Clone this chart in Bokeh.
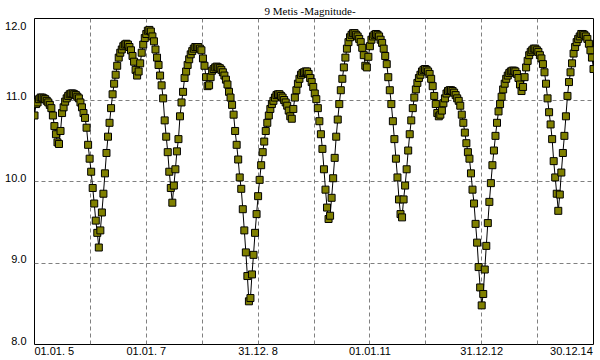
from bokeh.plotting import figure
from bokeh.models import Range1d, Grid, FixedTicker, ColumnDataSource, LinearAxis
from bokeh.embed import file_html
from bokeh.resources import INLINE

title_text = "9 Metis -Magnitude-"

# time axis: days after 01.01.2005, one value every 10 days
start_day = 0
step_days = 10

magnitude = [
    10.81, 10.95, 10.97, 11.01, 11.03, 11.03, 11.02, 11.01, 10.99, 10.97,
    10.94, 10.90, 10.81, 10.68, 10.58, 10.48, 10.46, 10.62, 10.84, 10.91,
    10.98, 11.02, 11.05, 11.07, 11.08, 11.08, 11.07, 11.06, 11.04, 11.02,
    10.97, 10.91, 10.84, 10.78, 10.66, 10.45, 10.28, 10.12, 9.92, 9.73,
    9.52, 9.37, 9.19, 9.40, 9.62, 9.85, 10.10, 10.35, 10.55, 10.72,
    10.90, 11.07, 11.20, 11.31, 11.42, 11.52, 11.58, 11.62, 11.66, 11.68,
    11.69, 11.68, 11.65, 11.61, 11.54, 11.47, 11.37, 11.30, 11.35, 11.45,
    11.58, 11.68, 11.76, 11.81, 11.85, 11.86, 11.84, 11.78, 11.72, 11.62,
    11.52, 11.43, 11.30, 11.18, 11.02, 10.75, 10.55, 10.36, 10.12, 9.92,
    9.74, 9.95, 10.15, 10.37, 10.52, 10.80, 10.97, 11.10, 11.27, 11.35,
    11.43, 11.50, 11.56, 11.60, 11.63, 11.65, 11.65, 11.65, 11.63, 11.61,
    11.51, 11.42, 11.28, 11.17, 11.18, 11.28, 11.36, 11.38, 11.40, 11.41,
    11.40, 11.39, 11.37, 11.34, 11.30, 11.25, 11.19, 11.10, 11.03, 10.94,
    10.82, 10.62, 10.45, 10.27, 10.05, 9.91, 9.66, 9.40, 9.13, 8.84,
    8.53, 8.57, 8.86, 9.10, 9.37, 9.60, 9.82, 10.02, 10.20, 10.36,
    10.49, 10.62, 10.72, 10.81, 10.89, 10.95, 10.99, 11.03, 11.06, 11.07,
    11.07, 11.05, 11.03, 11.00, 10.97, 10.93, 10.87, 10.80, 10.77, 10.89,
    11.03, 11.12, 11.20, 11.26, 11.31, 11.33, 11.34, 11.35, 11.35, 11.32,
    11.27, 11.22, 11.16, 11.08, 11.01, 10.90, 10.74, 10.58, 10.40, 10.15,
    9.90, 9.68, 9.54, 9.58, 9.80, 10.04, 10.29, 10.55, 10.76, 10.95,
    11.12, 11.26, 11.40, 11.52, 11.63, 11.71, 11.77, 11.80, 11.82, 11.82,
    11.80, 11.78, 11.75, 11.71, 11.64, 11.55, 11.42, 11.40, 11.53, 11.66,
    11.74, 11.78, 11.80, 11.81, 11.80, 11.78, 11.74, 11.70, 11.63, 11.54,
    11.44, 11.28, 11.12, 10.95, 10.74, 10.52, 10.28, 10.05, 9.78, 9.60,
    9.56, 9.78, 9.95, 10.15, 10.38, 10.58, 10.75, 10.90, 11.03, 11.13,
    11.21, 11.27, 11.31, 11.35, 11.37, 11.38, 11.37, 11.35, 11.32, 11.26,
    11.17, 11.05, 10.95, 10.84, 10.80, 10.82, 10.87, 10.96, 11.02, 11.08,
    11.11, 11.12, 11.12, 11.11, 11.09, 11.06, 11.02, 10.99, 10.93, 10.82,
    10.72, 10.60, 10.47, 10.36, 10.28, 10.10, 9.90, 9.73, 9.48, 9.25,
    8.95, 8.70, 8.48, 8.62, 8.92, 9.21, 9.49, 9.75, 9.98, 10.20,
    10.38, 10.56, 10.72, 10.86, 10.95, 11.04, 11.13, 11.20, 11.26, 11.30,
    11.33, 11.35, 11.36, 11.36, 11.35, 11.32, 11.27, 11.19, 11.11, 11.16,
    11.28, 11.40, 11.48, 11.55, 11.59, 11.61, 11.63, 11.63, 11.61, 11.59,
    11.55, 11.51, 11.44, 11.34, 11.20, 11.02, 10.85, 10.70, 10.52, 10.25,
    10.05, 9.85, 9.64, 9.84, 10.11, 10.35, 10.56, 10.80, 11.05, 11.22,
    11.34, 11.45, 11.57, 11.65, 11.71, 11.75, 11.78, 11.81, 11.81, 11.80,
    11.78, 11.75, 11.69, 11.61, 11.52, 11.38,
]
days = [start_day + step_days * i for i in range(len(magnitude))]

x_grid_days = [365, 730, 1095, 1460, 1825, 2190, 2555, 2920, 3285]
x_label_text = ["01.01. 5", "01.01. 7", "31.12. 8", "01.01.11", "31.12.12", "30.12.14"]
# label anchors (first/last kept inside the frame like the original)
x_label_anchor = [129, 730, 1460, 2190, 2920, 3506]
y_grid_vals = [9, 10, 11]
y_label_text = ["8.0", "9.0", "10.0", "11.0", "12.0"]
# label anchors: text sits just above its grid line, top one kept inside
y_label_anchor = [8.043, 9.043, 10.043, 11.043, 11.914]

X_MIN, X_MAX = 0, 3650
Y_MIN, Y_MAX = 8, 12

p = figure(width=600, height=360,
           x_range=Range1d(X_MIN, X_MAX), y_range=Range1d(Y_MIN, Y_MAX),
           x_axis_type=None, y_axis_type=None, title=title_text,
           output_backend="svg", toolbar_location=None,
           min_border_left=34, min_border_right=7,
           min_border_top=18, min_border_bottom=16)
p.background_fill_color = "white"
p.border_fill_color = "white"
p.outline_line_color = "black"
p.outline_line_width = 1
p.outline_line_alpha = 1.0

p.title.text_font = "Liberation Serif"
p.title.text_font_size = "11px"
p.title.text_font_style = "normal"
p.title.text_color = "black"
p.title.align = "left"
p.title.offset = 230
p.title.standoff = 3

for dim, ticks in ((0, x_grid_days), (1, y_grid_vals)):
    g = Grid(dimension=dim, ticker=FixedTicker(ticks=ticks),
             grid_line_color="#808080", grid_line_dash="4 3", grid_line_width=1)
    p.add_layout(g)

TICK_FONT = "Liberation Sans"


def style_axis(ax, standoff):
    ax.axis_line_color = None
    ax.major_tick_line_color = None
    ax.minor_tick_line_color = None
    ax.major_tick_in = 0
    ax.major_tick_out = 0
    ax.minor_tick_in = 0
    ax.minor_tick_out = 0
    ax.major_label_standoff = standoff
    ax.major_label_text_font = TICK_FONT
    ax.major_label_text_font_size = "11px"
    ax.major_label_text_color = "black"


xaxis = LinearAxis(ticker=FixedTicker(ticks=x_label_anchor),
                   major_label_overrides={a: t for a, t in zip(x_label_anchor, x_label_text)})
style_axis(xaxis, 0)
p.add_layout(xaxis, "below")

yaxis = LinearAxis(ticker=FixedTicker(ticks=y_label_anchor),
                   major_label_overrides={a: t for a, t in zip(y_label_anchor, y_label_text)})
style_axis(yaxis, 8)
p.add_layout(yaxis, "left")

src = ColumnDataSource(dict(x=days, y=magnitude))
p.line("x", "y", source=src, line_color="black", line_width=1)
p.scatter("x", "y", source=src, marker="square", size=7,
          fill_color="#808000", line_color="black", line_width=1)

open("out.html", "w").write(file_html(p, INLINE))
